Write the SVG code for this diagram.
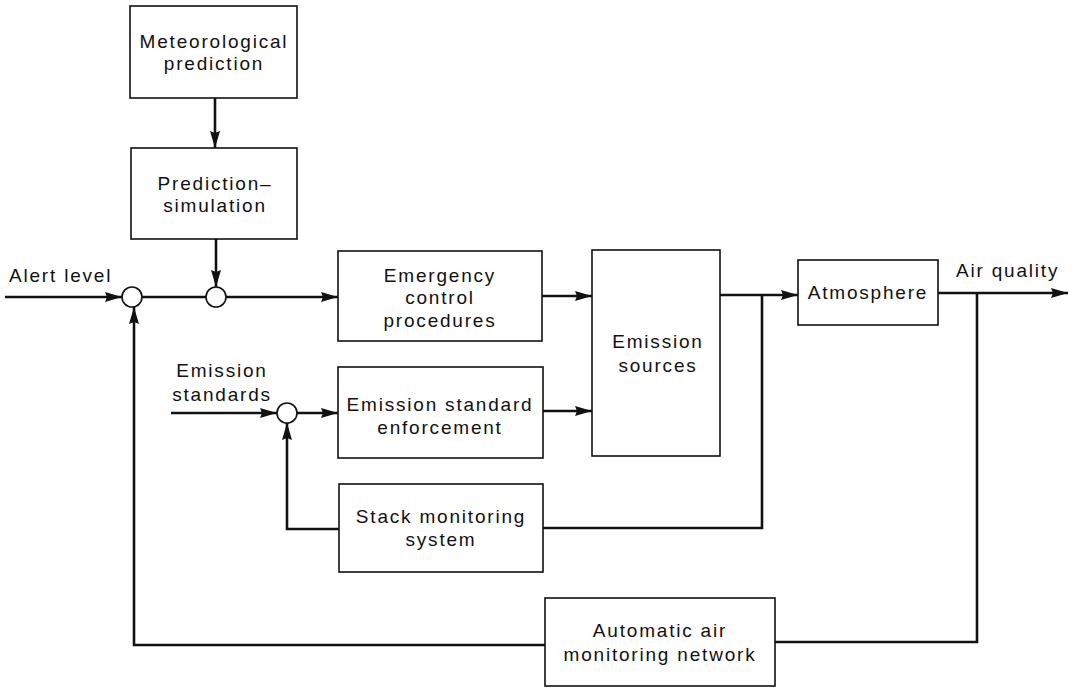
<svg xmlns="http://www.w3.org/2000/svg" width="1074" height="688" viewBox="0 0 1074 688">
  <style>
    .box { fill: #fff; stroke: #111; stroke-width: 1.6; }
    .sum { fill: #fff; stroke: #111; stroke-width: 1.6; }
    .lbl { font-family: "Liberation Sans", Arial, sans-serif; font-size: 19px; letter-spacing: 1.8px; fill: #111; text-anchor: middle; }
    .lbl-l { text-anchor: start; }
    .wire { fill: none; stroke: #111; stroke-width: 2.6; stroke-linejoin: miter; }
    .arrow { marker-end: url(#head); }
  </style>
  <defs>
    <marker id="head" viewBox="0 0 17 10" refX="17" refY="5" markerWidth="17" markerHeight="10" markerUnits="userSpaceOnUse" orient="auto">
      <path d="M0,0 L17,5 L0,10 L2,5 Z" fill="#111"/>
    </marker>
  </defs>
  <rect width="1074" height="688" fill="#fff"/>

  <!-- signal lines -->
  <g id="connectors">
    <path class="wire arrow" d="M215,98 V148"/>
    <path class="wire arrow" d="M216,239 V287"/>
    <path class="wire arrow" d="M5,297 H122"/>
    <path class="wire" d="M142,297 H206"/>
    <path class="wire arrow" d="M226,297 H338"/>
    <path class="wire arrow" d="M542,296 H592"/>
    <path class="wire arrow" d="M543,411 H592"/>
    <path class="wire arrow" d="M720,295 H798"/>
    <path class="wire" d="M543,528 H762 V295"/>
    <path class="wire arrow" d="M938,293 H1068"/>
    <path class="wire" d="M977,293 V642 H775"/>
    <path class="wire arrow" d="M545,645 H134 V307"/>
    <path class="wire arrow" d="M171,413 H277"/>
    <path class="wire arrow" d="M297,413 H338"/>
    <path class="wire arrow" d="M339,529 H287 V423"/>
  </g>

  <!-- summing junctions -->
  <g id="sum-alert"><circle class="sum" cx="132" cy="297" r="10"/></g>
  <g id="sum-prediction"><circle class="sum" cx="216" cy="297" r="10"/></g>
  <g id="sum-standards"><circle class="sum" cx="287" cy="413" r="10"/></g>

  <g id="meteorological-prediction">
    <rect class="box" x="130" y="6" width="167" height="92"/>
    <text class="lbl" x="214" y="48">Meteorological</text>
    <text class="lbl" x="214" y="70">prediction</text>
  </g>

  <g id="prediction-simulation">
    <rect class="box" x="131" y="148" width="166" height="91"/>
    <text class="lbl" x="215" y="190">Prediction–</text>
    <text class="lbl" x="215" y="212">simulation</text>
  </g>

  <g id="emergency-control">
    <rect class="box" x="338" y="251" width="204" height="90"/>
    <text class="lbl" x="440" y="282">Emergency</text>
    <text class="lbl" x="440" y="304">control</text>
    <text class="lbl" x="440" y="327">procedures</text>
  </g>

  <g id="emission-sources">
    <rect class="box" x="592" y="250" width="128" height="206"/>
    <text class="lbl" x="658" y="348">Emission</text>
    <text class="lbl" x="658" y="372">sources</text>
  </g>

  <g id="emission-enforcement">
    <rect class="box" x="338" y="367" width="205" height="91"/>
    <text class="lbl" x="440" y="411">Emission standard</text>
    <text class="lbl" x="440" y="434">enforcement</text>
  </g>

  <g id="stack-monitoring">
    <rect class="box" x="339" y="484" width="204" height="88"/>
    <text class="lbl" x="441" y="523">Stack monitoring</text>
    <text class="lbl" x="441" y="546">system</text>
  </g>

  <g id="atmosphere">
    <rect class="box" x="798" y="260" width="140" height="65"/>
    <text class="lbl" x="868" y="299">Atmosphere</text>
  </g>

  <g id="air-monitoring-network">
    <rect class="box" x="545" y="598" width="230" height="88"/>
    <text class="lbl" x="660" y="637">Automatic air</text>
    <text class="lbl" x="660" y="661">monitoring network</text>
  </g>

  <!-- free labels -->
  <g id="labels">
    <text class="lbl lbl-l" x="9" y="282">Alert level</text>
    <text class="lbl" x="222" y="377">Emission</text>
    <text class="lbl" x="222" y="401">standards</text>
    <text class="lbl lbl-l" x="956" y="277">Air quality</text>
  </g>
</svg>
